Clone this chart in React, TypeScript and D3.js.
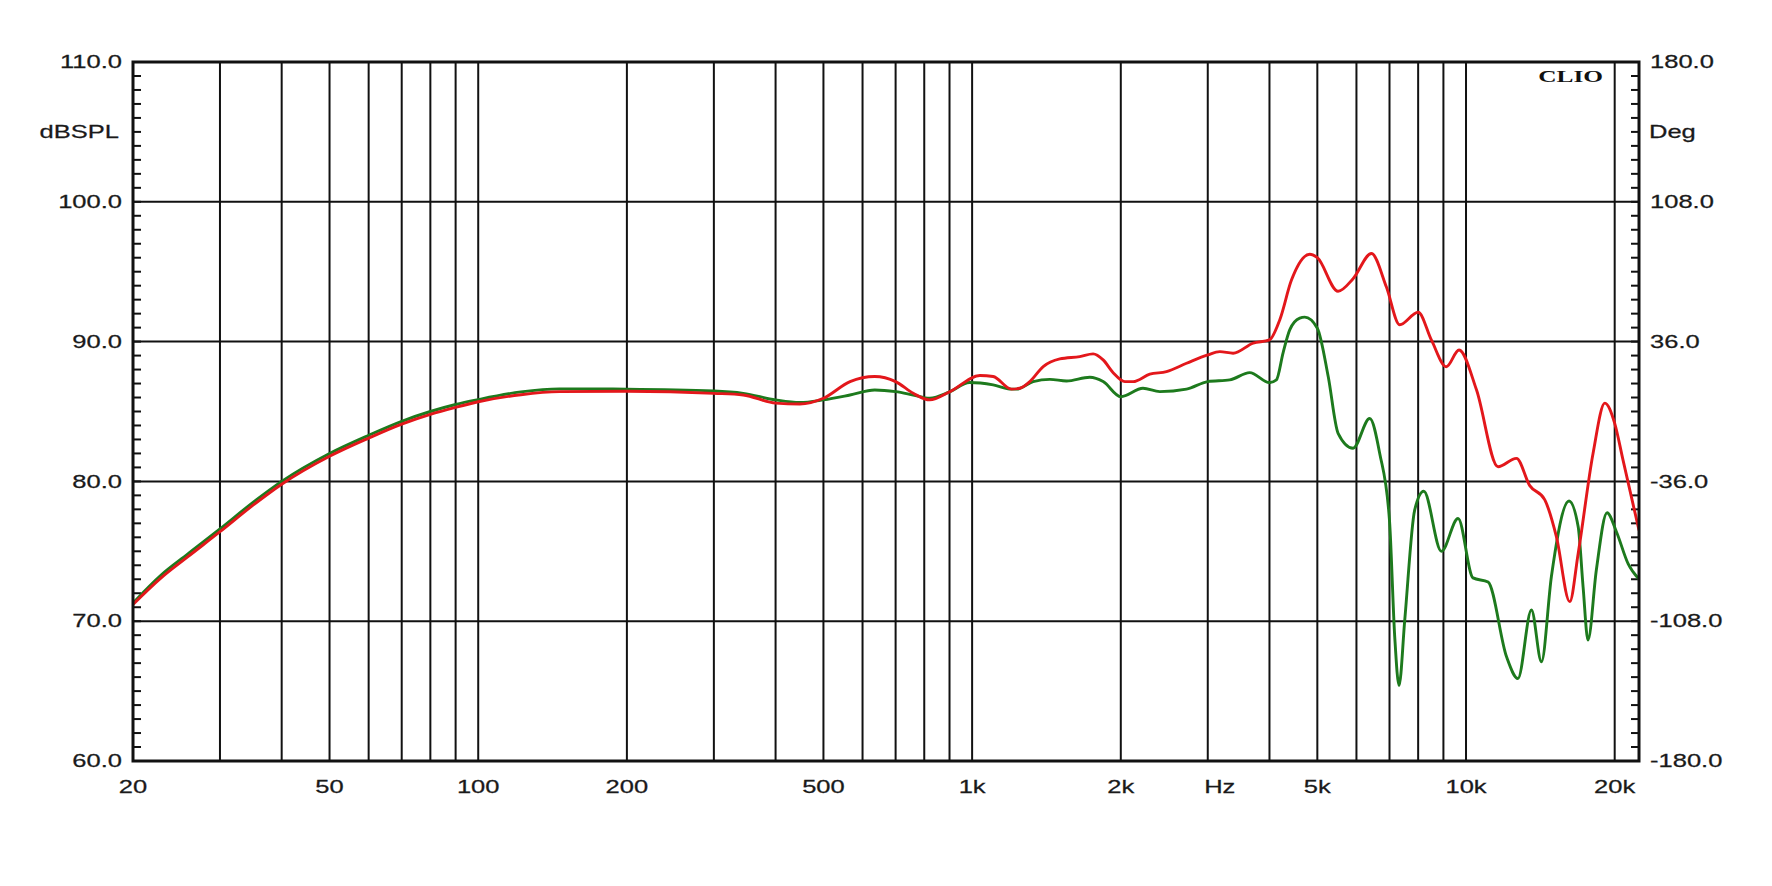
import React from "react";
import * as d3 from "d3";

const redFreq = [20, 22.8, 25.8, 30, 35, 40, 50, 60, 70, 80, 90, 100, 122, 146, 200, 300, 344, 400, 448, 500, 566, 635, 700, 760, 821, 900, 1037, 1103, 1201, 1249, 1309, 1393, 1505, 1652, 1758, 1842, 1930, 2038, 2118, 2289, 2475, 2717, 3000, 3173, 3376, 3707, 4000, 4196, 4432, 4826, 5000, 5508, 5906, 6435, 6900, 7340, 8000, 8513, 9122, 9680, 10500, 11610, 12650, 13460, 14430, 15240, 16220, 16870, 18080, 19100, 20000, 20800, 22400];
const redDb = [71.2, 73.1, 74.6, 76.4, 78.3, 79.8, 81.8, 83.1, 84.1, 84.8, 85.3, 85.7, 86.2, 86.42, 86.45, 86.3, 86.18, 85.6, 85.54, 85.95, 87.14, 87.5, 87.14, 86.3, 85.83, 86.4, 87.57, 87.5, 86.6, 86.66, 87.14, 88.21, 88.76, 88.93, 89.12, 88.69, 87.78, 87.14, 87.14, 87.67, 87.85, 88.45, 89.05, 89.28, 89.17, 89.89, 90.12, 91.55, 94.4, 96.25, 96.0, 93.6, 94.5, 96.3, 93.9, 91.2, 92.1, 90.1, 88.2, 89.4, 86.55, 81.05, 81.65, 79.7, 78.7, 76.05, 71.4, 74.85, 82.0, 85.6, 84.15, 81.5, 76.5];

const greenFreq = [20, 22.8, 25.8, 30, 35, 40, 50, 60, 70, 80, 90, 100, 122, 146, 200, 300, 344, 400, 448, 500, 566, 635, 700, 760, 821, 900, 988, 1103, 1201, 1230, 1329, 1437, 1553, 1731, 1842, 2000, 2218, 2399, 2717, 3000, 3324, 3648, 4000, 4131, 4262, 4396, 4606, 4716, 5000, 5260, 5508, 5906, 6383, 6688, 7000, 7172, 7318, 7516, 7871, 8212, 8916, 9637, 10330, 11085, 12080, 12740, 13565, 14215, 14890, 16165, 16870, 17260, 17660, 18360, 19300, 20160, 21300, 22400];
const greenDb = [71.3, 73.3, 74.8, 76.6, 78.5, 80.0, 82.0, 83.3, 84.3, 85.0, 85.5, 85.85, 86.4, 86.62, 86.6, 86.47, 86.3, 85.83, 85.64, 85.83, 86.18, 86.54, 86.42, 86.18, 85.95, 86.4, 87.07, 86.9, 86.6, 86.6, 87.14, 87.3, 87.18, 87.45, 87.14, 86.06, 86.66, 86.42, 86.6, 87.14, 87.26, 87.78, 87.07, 87.26, 89.2, 90.84, 91.68, 91.75, 90.96, 87.5, 83.44, 82.37, 84.5, 82.0, 77.2, 68.9, 65.4, 70.1, 77.95, 79.3, 75.0, 77.35, 73.1, 72.8, 67.45, 65.9, 70.8, 67.1, 73.2, 78.6, 76.75, 72.46, 68.65, 73.66, 77.76, 76.4, 74.1, 73.0];

const freqGrid = [30, 40, 50, 60, 70, 80, 90, 100, 200, 300, 400, 500, 600, 700, 800, 900, 1000, 2000, 3000, 4000, 5000, 6000, 7000, 8000, 9000, 10000, 20000];
const freqLabelValues = [20, 50, 100, 200, 500, 1000, 2000, 5000, 10000, 20000];
const freqLabelTexts = ["20", "50", "100", "200", "500", "1k", "2k", "5k", "10k", "20k"];
const dbTicks = [60, 70, 80, 90, 100, 110];
const dbTickTexts = ["60.0", "70.0", "80.0", "90.0", "100.0", "110.0"];
const degTicks = [-180, -108, -36, 36, 108, 180];
const degTickTexts = ["-180.0", "-108.0", "-36.0", "36.0", "108.0", "180.0"];

const W = 1772;
const H = 886;
const L = 133;
const R = 1639;
const T = 62;
const B = 761;
const SX = 1.38;
const FONT = "'Liberation Sans', Arial, sans-serif";

export default function App() {
  const x = d3.scaleLog().domain([20, 22400]).range([L, R]);
  const y = d3.scaleLinear().domain([60, 110]).range([B, T]);
  const yDeg = d3.scaleLinear().domain([-180, 180]).range([B, T]);

  const line = d3
    .line<[number, number]>()
    .x((d) => x(d[0]))
    .y((d) => y(d[1]))
    .curve(d3.curveMonotoneX);

  const red = line(redFreq.map((f, i) => [f, redDb[i]] as [number, number])) || "";
  const green = line(greenFreq.map((f, i) => [f, greenDb[i]] as [number, number])) || "";

  const minor = d3.range(61, 110, 1);

  const sText = (tx: number, ty: number, s: string, anchor: string, key: string) => (
    <g key={key} transform={`translate(${tx},${ty}) scale(${SX},1)`}>
      <text
        x={0}
        y={0}
        textAnchor={anchor as any}
        dominantBaseline="central"
        fontFamily={FONT}
        fontSize={18.5}
        fill="#1a1a1a"
        stroke="#1a1a1a"
        strokeWidth={0.25}
      >
        {s}
      </text>
    </g>
  );

  return (
    <svg
      width={W}
      height={H}
      style={{ position: "absolute", left: 0, top: 0, background: "#fff" }}
      xmlns="http://www.w3.org/2000/svg"
    >
      <rect x={0} y={0} width={W} height={H} fill="#fff" />
      <defs>
        <clipPath id="plotclip">
          <rect x={L} y={T} width={R - L} height={B - T} />
        </clipPath>
      </defs>
      {freqGrid.map((f) => (
        <line key={"v" + f} x1={x(f)} x2={x(f)} y1={T} y2={B} stroke="#111" strokeWidth={2} />
      ))}
      {dbTicks.slice(1, -1).map((d) => (
        <line key={"h" + d} x1={L} x2={R} y1={y(d)} y2={y(d)} stroke="#111" strokeWidth={2} />
      ))}
      {minor.map((d) => (
        <g key={"m" + d}>
          <line x1={L} x2={L + 8} y1={y(d)} y2={y(d)} stroke="#111" strokeWidth={2} />
          <line x1={R - 8} x2={R} y1={y(d)} y2={y(d)} stroke="#111" strokeWidth={2} />
        </g>
      ))}
      <g clipPath="url(#plotclip)">
        <path d={green} fill="none" stroke="#1d7a1d" strokeWidth={2.9} strokeLinejoin="round" />
        <path d={red} fill="none" stroke="#e3171b" strokeWidth={2.9} strokeLinejoin="round" />
      </g>
      <rect x={L} y={T} width={R - L} height={B - T} fill="none" stroke="#111" strokeWidth={3} />
      {dbTicks.map((d, i) => sText(122, y(d), dbTickTexts[i], "end", "dl" + d))}
      {sText(119, y(105), "dBSPL", "end", "unitL")}
      {degTicks.map((d, i) => sText(1650, yDeg(d), degTickTexts[i], "start", "dr" + d))}
      {sText(1649, y(105), "Deg", "start", "unitR")}
      {freqLabelValues.map((f, i) => sText(x(f), 787, freqLabelTexts[i], "middle", "xl" + f))}
      {sText(x(3000) + 12, 787, "Hz", "middle", "hz")}
      <g transform={`translate(1603,82) scale(1.45,1)`}>
        <text x={0} y={0} textAnchor="end" fontFamily="'Liberation Serif', 'Times New Roman', serif" fontWeight="bold" fontSize={17.5} fill="#111">
          CLIO
        </text>
      </g>
    </svg>
  );
}
